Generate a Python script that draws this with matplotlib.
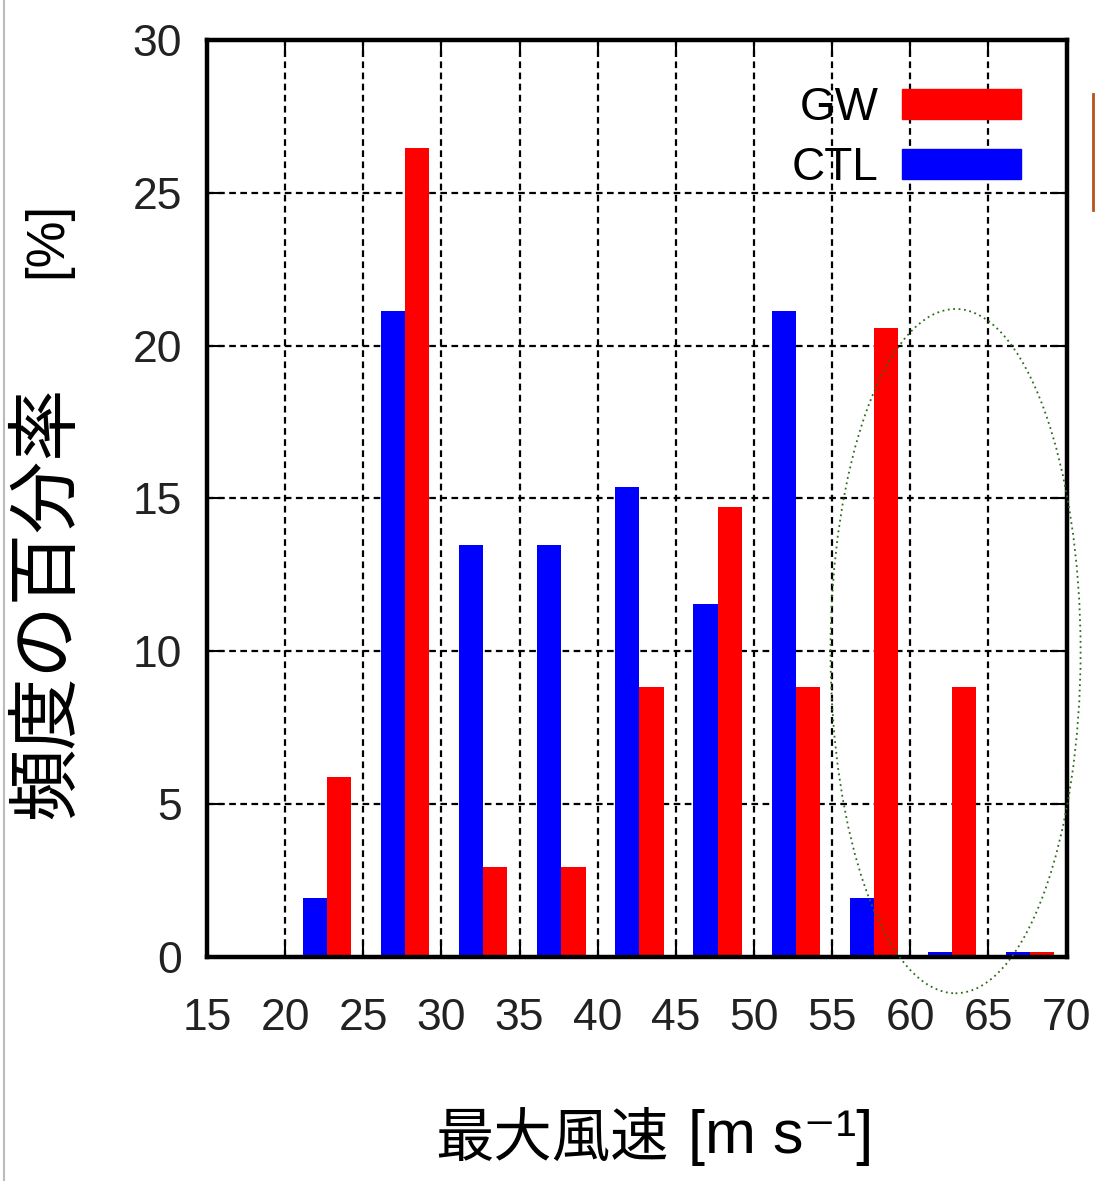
"""Max wind speed frequency histogram, GW vs CTL."""
import numpy as np
import matplotlib
matplotlib.use("Agg")
import matplotlib.pyplot as plt
from matplotlib.patches import Ellipse, Patch
from matplotlib.lines import Line2D

NARROW = ["Liberation Sans Narrow", "Liberation Sans", "DejaVu Sans"]
CJK = ["Noto Sans CJK JP", "DejaVu Sans"]

bin_starts = [20, 25, 30, 35, 40, 45, 50, 55, 60, 65]
gw_pct = [5.88, 26.47, 2.94, 2.94, 8.82, 14.71, 8.82, 20.59, 8.82, 0.15]
ctl_pct = [1.92, 21.15, 13.46, 13.46, 15.38, 11.54, 21.15, 1.92, 0.15, 0.15]
x_ticks = list(range(15, 71, 5))
y_ticks = list(range(0, 31, 5))

fig = plt.figure(figsize=(10.95, 11.81), dpi=100)
ax = fig.add_axes([0.189, 0.190, 0.785, 0.776])

x = np.array(bin_starts, dtype=float)
w = 1.55
ax.bar(x + 1.9, ctl_pct, width=w, color="#0000ff", zorder=3)
ax.bar(x + 3.45, gw_pct, width=w, color="#ff0000", zorder=3)

ax.set_xlim(15, 70)
ax.set_ylim(0, 30)
ax.set_xticks(x_ticks)
ax.set_yticks(y_ticks)
ax.grid(True, color="black", ls=(0, (3, 2)), lw=1.6, zorder=1)
for s in ax.spines.values():
    s.set_linewidth(3.2)
    s.set_zorder(4)
ax.tick_params(direction="in", length=12, width=1.5, top=True, right=True)
ax.tick_params(axis="x", pad=30)
ax.tick_params(axis="y", pad=18)
for lab in ax.get_xticklabels() + ax.get_yticklabels():
    lab.set_family(NARROW)
    lab.set_fontsize(32)
    lab.set_color("#222222")
for lab in ax.get_xticklabels():
    lab.set_x(lab.get_position()[0])

handles = [Patch(color="#ff0000", label="GW"), Patch(color="#0000ff", label="CTL")]
ax.legend(handles=handles, loc="upper right", frameon=False, markerfirst=False,
          prop={"family": NARROW, "size": 33}, handlelength=2.6,
          handleheight=0.65, labelspacing=0.35, handletextpad=0.5,
          borderaxespad=0.7, borderpad=0.3)

ell = Ellipse((62.9, 10.0), 16.0, 22.4, fill=False, ec="#2e6b1e",
              ls=(0, (1, 2)), lw=1.3, clip_on=False, zorder=5)
ax.add_patch(ell)

fig.text(0.043, 0.49, "頻度の百分率", rotation=90, family=CJK, fontsize=52,
         ha="center", va="center")
fig.text(0.043, 0.797, "[%]", rotation=90, family=NARROW, fontsize=38,
         ha="center", va="center")
fig.text(0.504, 0.035, "最大風速", family=CJK, fontsize=42,
         ha="center", va="center")
fig.text(0.713, 0.037, "[m s⁻¹]", family=NARROW, fontsize=44,
         ha="center", va="center")

fig.add_artist(Line2D([0.004, 0.004], [0, 1], color="#bbbbbb", lw=1.5))
fig.add_artist(Line2D([0.9985, 0.9985], [0.822, 0.92], color="#b5541c", lw=2))

fig.savefig("out.png", dpi=100)
